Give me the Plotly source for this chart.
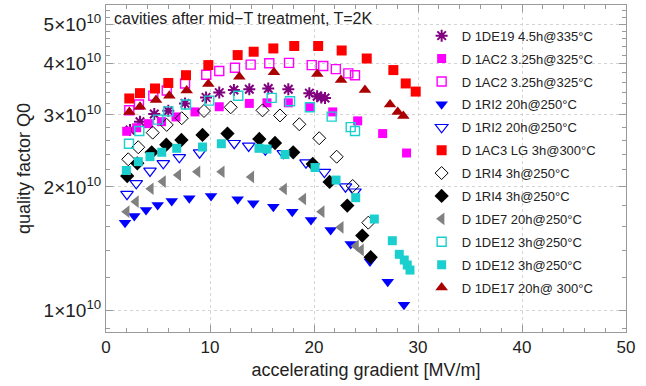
import plotly.graph_objects as go

# ---------------- data ----------------
de19_x = [2.31, 3.27, 4.64, 5.99, 7.60, 9.62, 10.89, 12.30, 13.78, 15.60, 17.53, 19.55, 20.30, 20.70, 21.06]
de19_y = [2.754, 2.887, 3.015, 3.07, 3.20, 3.31, 3.40, 3.45, 3.465, 3.48, 3.465, 3.39, 3.33, 3.31, 3.30]

ac2f_x = [1.99, 2.95, 4.07, 5.34, 6.73, 8.56, 10.89, 13.78, 15.48, 17.53, 19.60, 21.80, 24.20, 26.60, 28.90]
ac2f_y = [2.735, 2.79, 2.855, 2.887, 2.965, 3.05, 3.14, 3.20, 3.21, 3.21, 3.13, 3.05, 2.90, 2.70, 2.42]

ac2o_x = [2.24, 3.17, 4.55, 5.84, 7.60, 9.64, 10.89, 12.40, 13.91, 15.70, 17.60, 19.78, 20.89, 22.10, 23.30, 23.94]
ac2o_y = [3.08, 3.18, 3.34, 3.44, 3.58, 3.76, 3.84, 3.91, 3.98, 4.01, 4.02, 3.97, 3.95, 3.88, 3.79, 3.75]

ri2f_x = [1.83, 2.72, 3.85, 4.97, 6.32, 8.01, 10.10, 12.66, 14.16, 16.09, 17.91, 19.71, 21.60, 23.53, 25.38, 27.09, 28.65]
ri2f_y = [1.635, 1.697, 1.756, 1.806, 1.847, 1.876, 1.90, 1.865, 1.823, 1.789, 1.739, 1.66, 1.569, 1.45, 1.313, 1.173, 1.03]

ri2o_x = [2.02, 2.91, 4.23, 5.51, 7.05, 9.00, 12.33, 13.72, 15.32, 17.05, 19.23, 21.00, 23.03, 23.94]
ri2o_y = [1.919, 2.04, 2.188, 2.284, 2.362, 2.425, 2.557, 2.518, 2.466, 2.416, 2.292, 2.173, 2.002, 1.946]

ac3_x = [2.24, 3.27, 4.71, 5.99, 7.69, 9.84, 12.66, 14.20, 16.09, 18.10, 20.40, 22.66, 25.07, 27.63, 28.82, 29.78]
ac3_y = [3.29, 3.39, 3.48, 3.59, 3.75, 3.97, 4.20, 4.28, 4.36, 4.42, 4.42, 4.31, 4.12, 3.86, 3.58, 3.42]

ri4o_x = [2.14, 3.10, 4.49, 5.84, 7.28, 9.42, 11.99, 15.05, 16.73, 18.59, 20.50, 22.18, 23.72, 25.22]
ri4o_y = [2.336, 2.50, 2.714, 2.835, 2.943, 3.066, 3.13, 3.077, 2.99, 2.845, 2.63, 2.37, 2.01, 1.635]

ri4f_x = [2.04, 3.01, 4.39, 5.80, 7.25, 9.28, 11.68, 14.74, 16.25, 18.00, 19.88, 21.50, 23.20, 24.64, 25.45]
ri4f_y = [2.126, 2.284, 2.43, 2.536, 2.604, 2.679, 2.70, 2.619, 2.56, 2.43, 2.275, 2.056, 1.80, 1.52, 1.346]

de7_x = [1.99, 2.88, 4.31, 5.48, 6.95, 8.80, 11.13, 13.97, 17.12, 18.97, 20.74, 22.57, 24.04, 24.52]
de7_y = [1.739, 1.84, 1.979, 2.06, 2.138, 2.178, 2.178, 2.115, 1.976, 1.868, 1.739, 1.593, 1.434, 1.402]

de12o_x = [2.21, 3.20, 5.00, 5.99, 7.69, 9.93, 12.72, 15.93, 17.70, 19.60, 21.70, 23.53, 23.94]
de12o_y = [2.55, 2.74, 2.92, 3.06, 3.18, 3.25, 3.34, 3.30, 3.24, 3.13, 2.97, 2.80, 2.74]

de12f_x = [1.96, 3.11, 4.23, 5.36, 6.80, 9.28, 11.09, 14.71, 15.48, 17.21, 20.10, 22.12, 24.01, 25.80, 27.53, 28.20, 28.68, 28.97, 29.23]
de12f_y = [2.193, 2.305, 2.371, 2.43, 2.485, 2.503, 2.55, 2.485, 2.475, 2.40, 2.23, 2.078, 1.882, 1.669, 1.477, 1.368, 1.325, 1.288, 1.252]

de17_x = [2.24, 3.27, 4.81, 6.09, 7.76, 9.84, 12.82, 16.15, 20.32, 22.60, 24.90, 27.31, 28.05, 28.59]
de17_y = [3.05, 3.14, 3.26, 3.34, 3.44, 3.57, 3.72, 3.815, 3.776, 3.65, 3.45, 3.18, 3.05, 2.98]

scale = 1e10

series = [
    ("D 1DE19 4.5h@335°C", de19_x, de19_y, "asterisk-open", "#800080", 10, 2.0),
    ("D 1AC2 3.25h@325°C", ac2f_x, ac2f_y, "square", "#FF00FF", 9, 0),
    ("D 1AC2 3.25h@325°C", ac2o_x, ac2o_y, "square-open", "#FF00FF", 9, 1.4),
    ("D 1RI2 20h@250°C", ri2f_x, ri2f_y, "triangle-down", "#0000FF", 11, 0),
    ("D 1RI2 20h@250°C", ri2o_x, ri2o_y, "triangle-down-open", "#0000FF", 11, 1.2),
    ("D 1AC3 LG 3h@300°C", ac3_x, ac3_y, "square", "#FF0000", 10, 0),
    ("D 1RI4 3h@250°C", ri4o_x, ri4o_y, "diamond-open", "#000000", 10, 1.0),
    ("D 1RI4 3h@250°C", ri4f_x, ri4f_y, "diamond", "#000000", 11, 0),
    ("D 1DE7 20h@250°C", de7_x, de7_y, "triangle-left", "#808080", 11, 0),
    ("D 1DE12 3h@250°C", de12o_x, de12o_y, "square-open", "#1CCFCF", 9, 1.4),
    ("D 1DE12 3h@250°C", de12f_x, de12f_y, "square", "#1CCFCF", 9, 0),
    ("D 1DE17 20h@ 300°C", de17_x, de17_y, "triangle-up", "#AA0000", 11, 0),
]

y_major = [1, 2, 3, 4, 5]
y_major_text = ["1×10<sup>10</sup>", "2×10<sup>10</sup>", "3×10<sup>10</sup>",
                "4×10<sup>10</sup>", "5×10<sup>10</sup>"]
y_minor = [0.9, 1.2, 1.4, 1.6, 1.8, 2.2, 2.4, 2.6, 2.8, 3.2, 3.4, 3.6, 3.8,
           4.2, 4.4, 4.6, 4.8, 5.2, 5.4]

FONT = "Liberation Sans, Arial, sans-serif"

fig = go.Figure()
for i, (name, xs, ys, sym, col, size, lw) in enumerate(series):
    fig.add_trace(go.Scatter(
        x=xs, y=[v * scale for v in ys], mode="markers", name=name,
        legendgroup="g%d" % i,
        marker=dict(symbol=sym, color=col, size=size,
                    line=dict(color=col, width=lw)),
    ))

axis_common = dict(
    showline=True, linecolor="#9a9a9a", linewidth=1, mirror="ticks",
    ticks="inside", tickcolor="#9a9a9a", ticklen=7, tickwidth=1,
    showgrid=True, gridcolor="#d4d4d4", griddash="dot", gridwidth=1,
    zeroline=False,
)

fig.update_layout(
    width=646, height=386,
    margin=dict(l=106, r=20, t=5, b=54),
    paper_bgcolor="white", plot_bgcolor="white",
    font=dict(family=FONT, color="#222"),
    xaxis=dict(range=[0, 50], tickvals=[0, 10, 20, 30, 40, 50],
               tickfont=dict(family=FONT, size=17, color="#222"),
               minor=dict(dtick=2, ticks="inside", ticklen=4, tickcolor="#9a9a9a", showgrid=False),
               title=dict(text="accelerating gradient [MV/m]", font=dict(size=18, family=FONT), standoff=6),
               **axis_common),
    yaxis=dict(type="log", range=[9.9462, 10.7457],
               tickvals=[v * scale for v in y_major], ticktext=y_major_text,
               tickfont=dict(family=FONT, size=19, color="#222"),
               minor=dict(tickvals=[v * scale for v in y_minor], ticks="inside", ticklen=4,
                          tickcolor="#9a9a9a", showgrid=False),
               title=dict(text="quality factor Q0", font=dict(size=18, family=FONT), standoff=8),
               **axis_common),
    legend=dict(x=0.607, y=0.952, xanchor="left", yanchor="top",
                bgcolor="rgba(0,0,0,0)", font=dict(family=FONT, size=13, color="#222"),
                traceorder="grouped", tracegroupgap=3, itemsizing="trace"),
    annotations=[dict(text="cavities after mid−T treatment, T=2K", xref="paper", yref="paper",
                      x=0.012, y=0.99, xanchor="left", yanchor="top", showarrow=False,
                      font=dict(family=FONT, size=16, color="#222"))],
)

fig.write_html("out.html")
